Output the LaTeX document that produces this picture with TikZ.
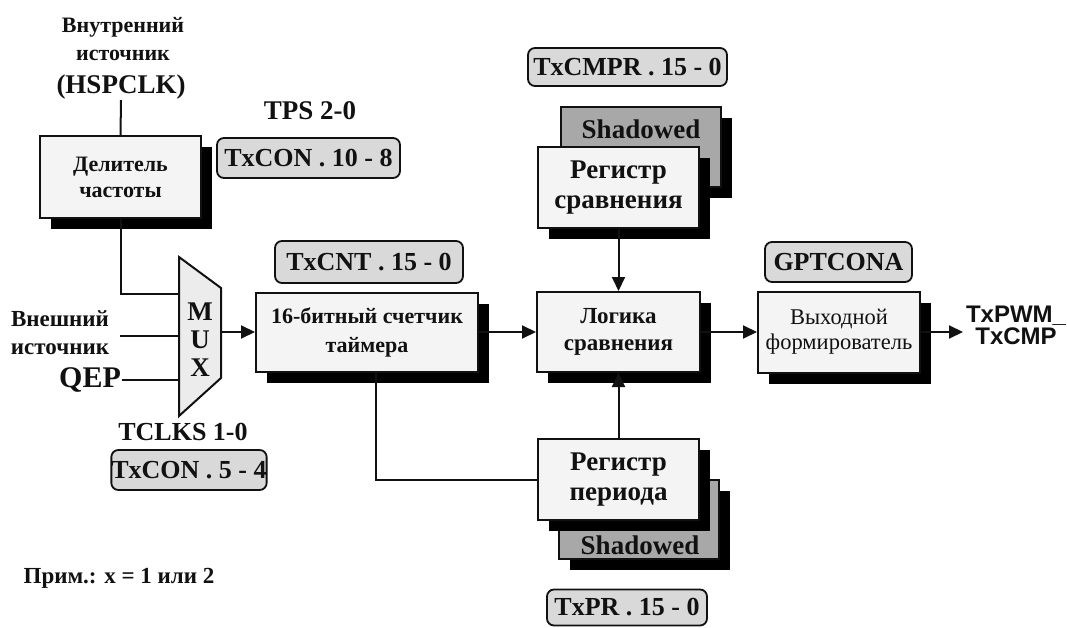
\documentclass[tikz,border=0pt]{standalone}
\usepackage{fontspec}
\setmainfont{Liberation Serif}
\newfontfamily\arialfont{Liberation Sans}
\usetikzlibrary{arrows.meta,shadows}
\newcommand\setfs[2]{\fontsize{#1}{#2}\selectfont}
\definecolor{boxfill}{HTML}{F4F4F4}
\definecolor{lblfill}{HTML}{D9D9D9}
\definecolor{shfill}{HTML}{A8A8A8}
\definecolor{muxfill}{HTML}{ECECEC}
\definecolor{ink}{HTML}{111111}
\begin{document}
\begin{tikzpicture}[x=1pt,y=-1pt,line width=2pt,draw=ink,text=ink,
  blk/.style={draw,fill=boxfill,inner sep=0pt,align=center,
    general shadow={fill=black,shadow xshift=11pt,shadow yshift=-11pt}},
  shbox/.style={draw,fill=shfill,inner sep=0pt,
    general shadow={fill=black,shadow xshift=11pt,shadow yshift=-11pt}},
  lbl/.style={draw,fill=lblfill,rounded corners=7pt,line width=1.8pt,
    inner sep=0pt,font=\bfseries\setfs{26}{30}},
  txt/.style={inner sep=0pt,align=center},
  arr/.style={-{Triangle[length=14pt,width=13pt]}}]
\useasboundingbox (0,0) rectangle (1067,628);

% clock source and prescaler
\node[txt,font=\bfseries\setfs{22}{28}] (srcA) at (123,39) {Внутренний\\источник};
\node[txt,font=\bfseries\setfs{27}{30}] (srcB) at (121,87) {(HSPCLK)};
\node[blk,minimum width=161pt,minimum height=82pt,font=\bfseries\setfs{22}{26}]
  (div) at (120.5,177) {Делитель\\частоты};
\node[txt,font=\bfseries\setfs{27}{30}] (tps) at (310,111) {TPS 2-0};
\node[lbl,minimum width=183pt,minimum height=40pt] (tpsreg) at (308.5,158) {TxCON . 10 - 8};

% multiplexer
\draw[fill=muxfill] (179,257) coordinate (mtl) -- (221,288) coordinate (mtr)
  -- (221,378) coordinate (mbr) -- (179,416) coordinate (mbl) -- cycle;
\node[txt,font=\bfseries\setfs{27}{28}] (muxtxt) at (200,340) {M\\U\\X};
\coordinate (min1) at (179,294);
\coordinate (min2) at (179,336);
\coordinate (min3) at (179,380);
\coordinate (mout) at (221,332);
\node[txt,font=\bfseries\setfs{23}{28}] (ext) at (60,333) {Внешний\\источник};
\node[txt,font=\bfseries\setfs{30}{32}] (qep) at (90,380) {QEP};
\node[txt,font=\bfseries\setfs{26}{30}] (tclks) at (183,432) {TCLKS 1-0};
\node[lbl,minimum width=152pt,minimum height=40pt] (tclksreg) at (189,470) {TxCON . 5 - 4};

% counter
\node[lbl,minimum width=188pt,minimum height=42pt] (txcnt) at (369,262) {TxCNT . 15 - 0};
\node[blk,minimum width=222pt,minimum height=79pt,font=\bfseries\setfs{22}{29}]
  (cnt) at (367,332) {16-битный счетчик\\таймера};

% compare register
\node[lbl,minimum width=199pt,minimum height=38pt] (txcmpr) at (627.5,67) {TxCMPR . 15 - 0};
\node[shbox,minimum width=160pt,minimum height=80pt] (cmpsh) at (641,147) {};
\node[txt,font=\bfseries\setfs{27}{30}] (cmpshtxt) at (641,129) {Shadowed};
\node[blk,minimum width=161pt,minimum height=81pt,font=\bfseries\setfs{27}{30}]
  (cmpreg) at (618.5,187.5) {Регистр\\сравнения};

% compare logic
\node[blk,minimum width=163pt,minimum height=80pt,font=\bfseries\setfs{23}{27}]
  (logic) at (618.5,332) {Логика\\сравнения};

% period register
\node[shbox,minimum width=160pt,minimum height=79pt] (persh) at (639,519.5) {};
\node[txt,font=\bfseries\setfs{27}{30}] (pershtxt) at (640,545) {Shadowed};
\node[blk,minimum width=161pt,minimum height=81pt,font=\bfseries\setfs{27}{30}]
  (perreg) at (618.5,479.5) {Регистр\\периода};
\node[lbl,minimum width=160pt,minimum height=36pt] (txpr) at (627,607.5) {TxPR . 15 - 0};

% output logic
\node[lbl,minimum width=147pt,minimum height=40pt] (gpt) at (838.5,262) {GPTCONA};
\node[blk,minimum width=162pt,minimum height=81pt,font=\setfs{22.5}{25}]
  (out) at (839,332) {Выходной\\формирователь};
\node[txt,font=\arialfont\bfseries\setfs{24}{22}] (pwm) at (1016,325) {TxPWM\_\\TxCMP};
\coordinate (outend) at (963,332);

\node[txt,font=\bfseries\setfs{23}{26}] (note) at (119,578) {Прим.: x = 1 или 2};

% connections
\draw (srcB.south) -- (div.north);
\draw (div.south) |- (min1);
\draw ([xshift=10pt]ext.east |- min2) -- (min2);
\draw (qep.east) -- (min3);
\draw[arr] (mout) -- (cnt.west);
\draw[arr] (cnt.east) -- (logic.west);
\draw[arr] (cmpreg.south) -- (logic.north);
\draw[arr] (perreg.north) -- (logic.south);
\draw ([xshift=9pt]cnt.south) |- (perreg.west);
\draw[arr] (logic.east) -- (out.west);
\draw[arr] (out.east) -- (outend);
\end{tikzpicture}
\end{document}
